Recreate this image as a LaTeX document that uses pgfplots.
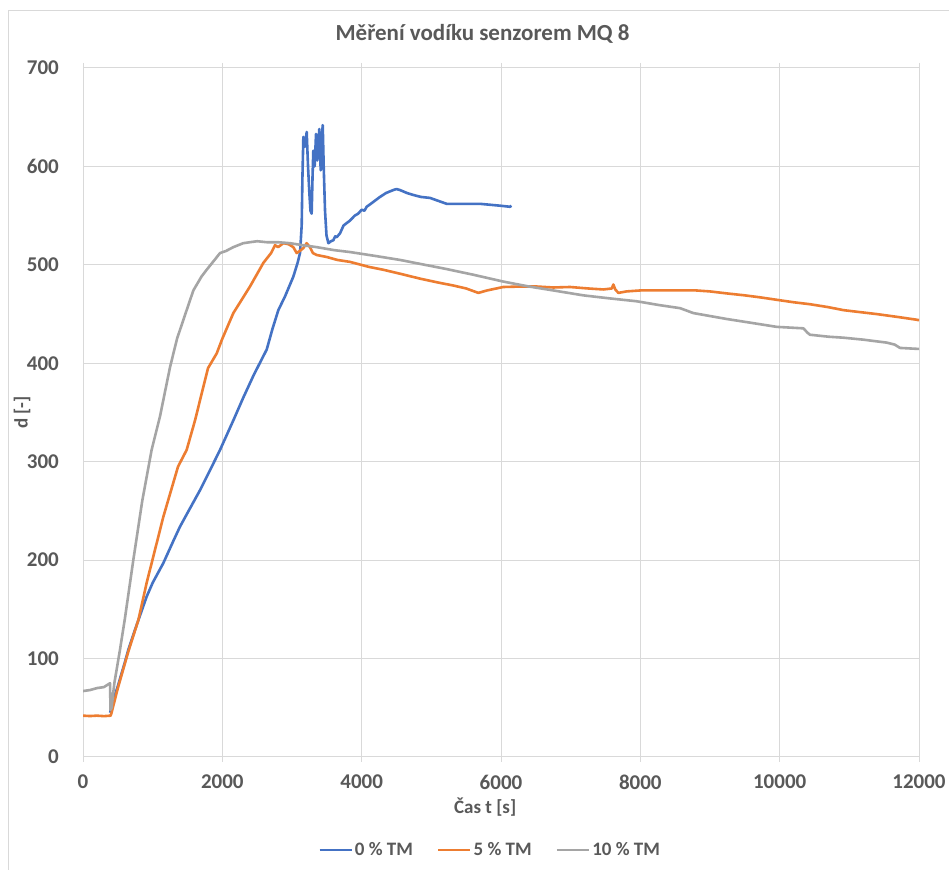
\documentclass[border=0pt]{standalone}
\usepackage{fontspec}
\setmainfont{Carlito}
\usepackage{pgfplots}
\pgfplotsset{compat=1.18}
\definecolor{cblue}{HTML}{4472C4}
\definecolor{corange}{HTML}{ED7D31}
\definecolor{cgray}{HTML}{A5A5A5}
\definecolor{gridc}{HTML}{D9D9D9}
\definecolor{txt}{HTML}{595959}
\begin{document}
\begin{tikzpicture}
\useasboundingbox[fill=white] (0,0) rectangle (949pt,869pt);
\draw[gridc, line width=1pt] (8pt,-20pt) -- (8pt,858pt) -- (980pt,858pt);
\begin{axis}[
  at={(83pt,112pt)}, anchor=south west,
  scale only axis, width=836pt, height=689pt,
  xmin=0, xmax=12000, ymin=0, ymax=700,
  xtick distance=2000, ytick distance=100,
  scaled ticks=false,
  grid=major, grid style={gridc, line width=1pt},
  axis line style={draw=gridc, line width=1pt},
  tick align=outside,
  major tick length=5pt,
  xtick style={draw=gridc, line width=1pt},
  ytick style={draw=none},
  /pgf/number format/assume math mode=true,
  /pgf/number format/1000 sep={},
  tick label style={font=\fontsize{21}{21}\selectfont\bfseries, text=txt},
  xticklabel style={anchor=center, yshift=-20pt},
  yticklabel style={anchor=east, inner sep=0pt, xshift=-19pt},
  xlabel={Čas t [s]}, ylabel={d [-]},
  label style={font=\fontsize{19}{19}\selectfont\bfseries, text=txt},
  xlabel style={at={(axis description cs:0.481,-0.072)}, anchor=center},
  ylabel style={at={(axis description cs:-0.073,0.5)}, anchor=center, rotate=0},
  title={Měření vodíku senzorem MQ 8},
  title style={font=\fontsize{23}{23}\selectfont\bfseries, text=txt, at={(axis description cs:0.478,1.0406)}, anchor=center},
  legend columns=3,
  legend style={at={(axis description cs:0.487,-0.135)}, anchor=center, draw=none, fill=none,
    font=\fontsize{19}{19}\selectfont\bfseries, text=txt,
    /tikz/every even column/.append style={column sep=22pt}},
  legend image code/.code={\draw[#1, line width=2.6pt] (0pt,0pt) -- (32pt,0pt);},
  every axis plot/.append style={line width=2.6pt, line join=round, mark=none},
]
\addplot[cblue] coordinates {
(390,45) (420,55) (500,72) (600,96) (651,109) (750,130) (914,163) (1000,177)
(1153,197) (1300,220) (1392,234) (1500,248) (1679,271) (1800,288) (1967,312)
(2158,342) (2300,365) (2450,388) (2637,414) (2720,435) (2804,454) (2900,468)
(3019,488) (3080,502) (3115,512) (3139,540) (3150,590) (3163,630) (3185,620)
(3211,635) (3230,600) (3249,573) (3265,555) (3282,552) (3295,590) (3306,616)
(3325,600) (3345,633) (3355,610) (3364,606) (3380,625) (3392,638) (3402,615)
(3412,596) (3425,625) (3441,642) (3455,600) (3474,555) (3495,530) (3522,522)
(3560,524) (3593,525) (3620,529) (3640,528) (3689,532) (3740,540) (3833,545)
(3900,550) (3950,552) (4000,556) (4040,555) (4072,559) (4150,563) (4263,569)
(4350,573) (4454,576) (4500,577) (4550,576) (4650,573) (4741,571) (4850,569)
(4981,568) (5100,565) (5220,562) (5400,562) (5550,562) (5698,562) (5850,561)
(6000,560) (6129,559) (6150,560)
};
\addlegendentry{0 \% TM}
\addplot[corange] coordinates {
(0,42) (100,41.6) (200,42) (300,41.5) (397,42) (410,45) (500,70) (650,107)
(794,139) (914,177) (1153,244) (1364,295) (1488,312) (1608,342) (1794,395)
(1919,410) (2000,425) (2158,451) (2397,478) (2589,502) (2700,512) (2756,520)
(2800,518) (2876,522) (2950,521) (3019,518) (3067,512) (3110,514) (3163,517)
(3210,522) (3258,518) (3300,512) (3354,510) (3498,508) (3650,505) (3833,503)
(4100,498) (4311,495) (4550,491) (4837,486) (5100,482) (5316,479) (5500,476)
(5675,471.5) (5800,474) (6033,477.5) (6300,478) (6512,478) (6750,477) (6991,477.5)
(7250,476) (7469,475) (7590,476) (7613,480) (7640,475) (7685,471.5) (7800,473)
(8000,474) (8187,474) (8570,474) (8800,474) (9000,473) (9239,471) (9500,469)
(9718,467) (10005,464) (10200,462) (10435,460) (10700,457) (10914,454)
(11150,452) (11392,450) (11700,447) (11990,444) (12000,443)
};
\addlegendentry{5 \% TM}
\addplot[cgray] coordinates {
(0,67) (100,68) (200,70) (300,71) (388,75) (395,48) (410,50) (450,75) (531,109)
(600,140) (722,200) (850,260) (985,312) (1105,346) (1249,396) (1350,425)
(1440,444) (1584,474) (1700,488) (1775,495) (1900,506) (1967,512) (2050,514)
(2158,518) (2300,522) (2397,523) (2500,524) (2637,523) (2800,523) (2971,522)
(3150,520) (3354,518) (3600,515) (3833,513) (4200,509) (4550,505) (4837,501)
(5200,496) (5600,490) (6033,483) (6400,478) (6751,474) (7182,469) (7550,466)
(7947,463) (8282,459) (8570,456) (8761,451) (9000,448) (9239,445) (9600,441)
(9957,437) (10340,435.5) (10400,431) (10435,429) (10700,427) (10914,426)
(11200,424) (11536,421) (11650,419) (11727,415.6) (11990,414.6) (12000,415)
};
\addlegendentry{10 \% TM}
\end{axis}
\end{tikzpicture}
\end{document}
